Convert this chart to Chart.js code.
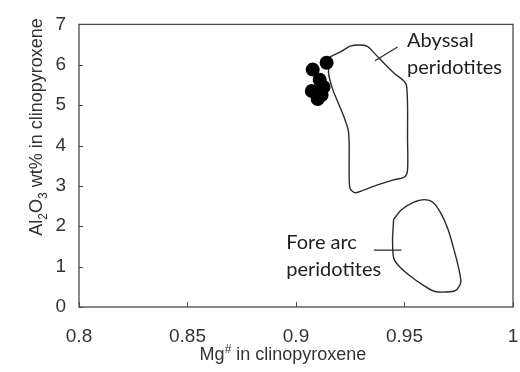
<!DOCTYPE html>
<html>
<head>
<meta charset="utf-8">
<script src="https://cdn.jsdelivr.net/npm/chart.js@4"></script>
<style>
  html, body { margin: 0; padding: 0; background: #fff; }
  canvas { display: block; }
</style>
</head>
<body>
<canvas id="chart" width="520" height="372"></canvas>
<script>
// axis ticks
const xTicks = [0.8, 0.85, 0.9, 0.95, 1];
const yTicks = [0, 1, 2, 3, 4, 5, 6, 7];

// samples (Mg# vs Al2O3 in clinopyroxene)
const sampleMg = [0.9141, 0.9077, 0.9109, 0.9127, 0.9073, 0.9100, 0.9118];
const sampleAl = [6.05, 5.88, 5.63, 5.45, 5.35, 5.15, 5.25];

// abyssal peridotite field outline
const abyssalMg = [0.9159, 0.9205, 0.9250, 0.9291, 0.9327, 0.9364, 0.9409, 0.9455, 0.9495, 0.9509,
  0.9514, 0.9514, 0.9514, 0.9500, 0.9450, 0.9373, 0.9314, 0.9273, 0.9250, 0.9245,
  0.9245, 0.9241, 0.9223, 0.9191, 0.9168, 0.9150, 0.9159];
const abyssalAl = [6.20, 6.32, 6.46, 6.49, 6.46, 6.27, 6.02, 5.78, 5.61, 5.49,
  5.00, 4.20, 3.39, 3.22, 3.15, 3.02, 2.90, 2.83, 2.93, 3.22,
  4.02, 4.37, 4.68, 5.10, 5.41, 5.80, 6.20];

// fore arc peridotite field outline
const foreArcMg = [0.9450, 0.9486, 0.9541, 0.9591, 0.9632, 0.9668, 0.9700, 0.9727, 0.9750, 0.9759,
  0.9736, 0.9691, 0.9636, 0.9586, 0.9523, 0.9473, 0.9450, 0.9445, 0.9448, 0.9450];
const foreArcAl = [2.17, 2.41, 2.59, 2.66, 2.59, 2.32, 1.93, 1.44, 0.95, 0.61,
  0.41, 0.37, 0.39, 0.54, 0.78, 1.02, 1.22, 1.68, 2.00, 2.17];

// leader lines from labels to fields
const abyssalLeaderMg = [0.9364, 0.9468];
const abyssalLeaderAl = [6.10, 6.44];
const foreArcLeaderMg = [0.9359, 0.9486];
const foreArcLeaderAl = [1.41, 1.41];

const abyssalLabel = ['Abyssal', 'peridotites'];
const foreArcLabel = ['Fore arc', 'peridotites'];

const toPoints = (xs, ys) => xs.map((x, i) => ({ x: x, y: ys[i] }));

const outline = (data, tension) => ({
  data: data,
  showLine: true,
  borderColor: '#2b2b2b',
  borderWidth: 1.4,
  pointRadius: 0,
  tension: tension,
  fill: false,
  order: 2
});

// label placement (data coords of first line's left baseline)
const fieldLabels = [
  { lines: abyssalLabel, mg: 0.9512, al: 6.44 },
  { lines: foreArcLabel, mg: 0.8955, al: 1.44 }
];

const tickFont = '"Liberation Sans", Arial, sans-serif';

const frameAndTicks = {
  id: 'frameAndTicks',
  afterDraw(chart) {
    const { ctx, chartArea: a, scales: { x, y } } = chart;
    ctx.save();
    ctx.strokeStyle = '#4a4a4a';
    ctx.lineWidth = 1.3;
    ctx.strokeRect(a.left, a.top, a.right - a.left, a.bottom - a.top);
    ctx.lineWidth = 1;
    ctx.beginPath();
    xTicks.forEach(v => {
      const px = Math.round(x.getPixelForValue(v)) + 0.5;
      ctx.moveTo(px, a.bottom);
      ctx.lineTo(px, a.bottom - 5);
    });
    yTicks.forEach(v => {
      const py = Math.round(y.getPixelForValue(v)) + 0.5;
      ctx.moveTo(a.left, py);
      ctx.lineTo(a.left + 4, py);
    });
    ctx.stroke();

    // field labels
    ctx.fillStyle = '#1e1e1e';
    ctx.font = '20px Lato, "Open Sans", sans-serif';
    ctx.textAlign = 'left';
    ctx.textBaseline = 'alphabetic';
    fieldLabels.forEach(l => {
      const px = x.getPixelForValue(l.mg);
      const py = y.getPixelForValue(l.al);
      l.lines.forEach((t, i) => ctx.fillText(t, px, py + i * 27));
    });

    // axis titles with sub/superscripts
    const drawRich = (parts, size) => {
      let w = 0;
      parts.forEach(p => {
        ctx.font = (p.s ? Math.round(size * 0.65) : size) + 'px ' + tickFont;
        p.w = ctx.measureText(p.t).width;
        w += p.w;
      });
      let cx = -w / 2;
      parts.forEach(p => {
        ctx.font = (p.s ? Math.round(size * 0.65) : size) + 'px ' + tickFont;
        ctx.fillText(p.t, cx, p.s === 'sub' ? size * 0.28 : p.s === 'sup' ? -size * 0.4 : 0);
        cx += p.w;
      });
    };
    ctx.fillStyle = '#333';
    ctx.save();
    ctx.translate(a.left + (a.right - a.left) / 2 - 13, 360);
    drawRich([{ t: 'Mg' }, { t: '#', s: 'sup' }, { t: ' in clinopyroxene' }], 18);
    ctx.restore();
    ctx.save();
    ctx.translate(42, 127);
    ctx.rotate(-Math.PI / 2);
    drawRich([{ t: 'Al' }, { t: '2', s: 'sub' }, { t: 'O' }, { t: '3', s: 'sub' }, { t: ' wt% in clinopyroxene' }], 18);
    ctx.restore();
    ctx.restore();
  }
};

new Chart(document.getElementById('chart').getContext('2d'), {
  type: 'scatter',
  data: {
    datasets: [
      {
        label: 'Samples',
        data: toPoints(sampleMg, sampleAl),
        backgroundColor: '#000',
        borderColor: '#000',
        pointRadius: 7,
        borderWidth: 0,
        order: 0
      },
      Object.assign(outline(toPoints(abyssalMg, abyssalAl), 0.3), { label: 'Abyssal peridotites' }),
      Object.assign(outline(toPoints(foreArcMg, foreArcAl), 0.3), { label: 'Fore arc peridotites' }),
      Object.assign(outline(toPoints(abyssalLeaderMg, abyssalLeaderAl), 0), { label: 'leader 1', borderWidth: 1.2 }),
      Object.assign(outline(toPoints(foreArcLeaderMg, foreArcLeaderAl), 0), { label: 'leader 2', borderWidth: 1.2 })
    ]
  },
  options: {
    responsive: false,
    animation: false,
    devicePixelRatio: 1,
    layout: { padding: { top: 22, right: 4, left: 0, bottom: 0 } },
    plugins: { legend: { display: false }, tooltip: { enabled: false } },
    scales: {
      x: {
        type: 'linear',
        min: 0.8,
        max: 1,
        grid: { display: false, drawTicks: false },
        border: { display: false },
        ticks: {
          font: { family: '"Liberation Sans Narrow", ' + tickFont, size: 19 },
          color: '#333',
          padding: 18,
          maxRotation: 0,
          autoSkip: false,
          callback: v => String(Number(v.toFixed(2)))
        },
        afterBuildTicks(s) { s.ticks = xTicks.map(v => ({ value: v })); },
        afterFit(s) { s.height = 65; s.paddingLeft = 0; s.paddingRight = 0; }
      },
      y: {
        min: 0,
        max: 7,
        grid: { display: false, drawTicks: false },
        border: { display: false },
        ticks: {
          font: { family: tickFont, size: 19 },
          color: '#333',
          padding: 13,
          callback: v => String(v)
        },
        afterBuildTicks(s) { s.ticks = yTicks.map(v => ({ value: v })); },
        afterFit(s) { s.width = 79; }
      }
    }
  },
  plugins: [frameAndTicks]
});
</script>
</body>
</html>
